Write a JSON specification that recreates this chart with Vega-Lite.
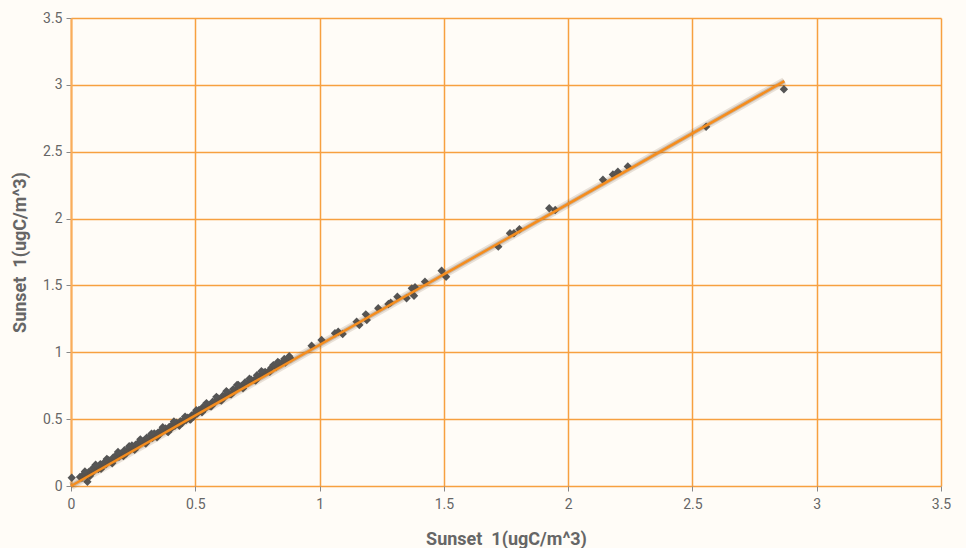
{
  "$schema": "https://vega.github.io/schema/vega-lite/v6.json",
  "width": 870,
  "height": 468,
  "autosize": "none",
  "padding": {"left": 71, "top": 18, "right": 25, "bottom": 62},
  "background": "#fffcf7",
  "config": {
    "view": {"stroke": null},
    "axis": {
      "grid": true,
      "gridColor": "#f7a040",
      "gridWidth": 1.5,
      "domainColor": "#f9ad5c",
      "domainWidth": 2,
      "tickColor": "#888888",
      "tickSize": 5,
      "labelColor": "#666666",
      "labelFont": "Roboto",
      "labelFontSize": 14,
      "labelFlush": false,
      "titleColor": "#666666",
      "titleFont": "Roboto",
      "titleFontSize": 18,
      "titleFontWeight": "bold"
    }
  },
  "datasets": {
    "points": [
      {"x": 0.003, "y": 0.062},
      {"x": 0.036, "y": 0.068}, {"x": 0.044, "y": 0.061}, {"x": 0.052, "y": 0.090}, {"x": 0.060, "y": 0.083},
      {"x": 0.066, "y": 0.032}, {"x": 0.072, "y": 0.106}, {"x": 0.080, "y": 0.089}, {"x": 0.088, "y": 0.133},
      {"x": 0.095, "y": 0.120}, {"x": 0.103, "y": 0.139}, {"x": 0.110, "y": 0.126}, {"x": 0.118, "y": 0.164},
      {"x": 0.125, "y": 0.157}, {"x": 0.133, "y": 0.175}, {"x": 0.140, "y": 0.163}, {"x": 0.148, "y": 0.196},
      {"x": 0.155, "y": 0.189}, {"x": 0.163, "y": 0.182}, {"x": 0.170, "y": 0.214}, {"x": 0.178, "y": 0.208},
      {"x": 0.185, "y": 0.235}, {"x": 0.193, "y": 0.219}, {"x": 0.200, "y": 0.241}, {"x": 0.208, "y": 0.239},
      {"x": 0.215, "y": 0.267}, {"x": 0.223, "y": 0.245}, {"x": 0.230, "y": 0.273}, {"x": 0.238, "y": 0.271},
      {"x": 0.245, "y": 0.303}, {"x": 0.253, "y": 0.292}, {"x": 0.260, "y": 0.309}, {"x": 0.268, "y": 0.298},
      {"x": 0.275, "y": 0.330}, {"x": 0.283, "y": 0.324}, {"x": 0.290, "y": 0.336}, {"x": 0.298, "y": 0.324},
      {"x": 0.305, "y": 0.362}, {"x": 0.313, "y": 0.350}, {"x": 0.320, "y": 0.373}, {"x": 0.328, "y": 0.361},
      {"x": 0.335, "y": 0.393}, {"x": 0.343, "y": 0.387}, {"x": 0.350, "y": 0.399}, {"x": 0.358, "y": 0.388},
      {"x": 0.365, "y": 0.420}, {"x": 0.373, "y": 0.414}, {"x": 0.380, "y": 0.431}, {"x": 0.388, "y": 0.409},
      {"x": 0.395, "y": 0.442}, {"x": 0.403, "y": 0.430}, {"x": 0.410, "y": 0.463}, {"x": 0.418, "y": 0.451},
      {"x": 0.425, "y": 0.473}, {"x": 0.433, "y": 0.462}, {"x": 0.440, "y": 0.484}, {"x": 0.448, "y": 0.473},
      {"x": 0.455, "y": 0.500}, {"x": 0.463, "y": 0.493}, {"x": 0.470, "y": 0.511}, {"x": 0.478, "y": 0.499},
      {"x": 0.485, "y": 0.527}, {"x": 0.493, "y": 0.520}, {"x": 0.500, "y": 0.548}, {"x": 0.508, "y": 0.541},
      {"x": 0.515, "y": 0.568}, {"x": 0.523, "y": 0.562}, {"x": 0.530, "y": 0.589}, {"x": 0.540, "y": 0.580},
      {"x": 0.550, "y": 0.605}, {"x": 0.560, "y": 0.596}, {"x": 0.570, "y": 0.631}, {"x": 0.580, "y": 0.627},
      {"x": 0.590, "y": 0.657}, {"x": 0.600, "y": 0.643}, {"x": 0.610, "y": 0.674}, {"x": 0.620, "y": 0.669},
      {"x": 0.630, "y": 0.700}, {"x": 0.640, "y": 0.685}, {"x": 0.652, "y": 0.723}, {"x": 0.662, "y": 0.718},
      {"x": 0.673, "y": 0.755}, {"x": 0.685, "y": 0.748}, {"x": 0.700, "y": 0.774}, {"x": 0.712, "y": 0.771},
      {"x": 0.725, "y": 0.795}, {"x": 0.737, "y": 0.793}, {"x": 0.748, "y": 0.829}, {"x": 0.760, "y": 0.822},
      {"x": 0.772, "y": 0.849}, {"x": 0.781, "y": 0.854}, {"x": 0.795, "y": 0.859}, {"x": 0.806, "y": 0.885},
      {"x": 0.814, "y": 0.904}, {"x": 0.825, "y": 0.890}, {"x": 0.838, "y": 0.919}, {"x": 0.848, "y": 0.920},
      {"x": 0.858, "y": 0.950}, {"x": 0.868, "y": 0.946}, {"x": 0.878, "y": 0.971}, {"x": 0.884, "y": 0.953},
      {"x": 0.056, "y": 0.109}, {"x": 0.076, "y": 0.075}, {"x": 0.099, "y": 0.159}, {"x": 0.121, "y": 0.128},
      {"x": 0.144, "y": 0.202}, {"x": 0.166, "y": 0.170}, {"x": 0.189, "y": 0.254}, {"x": 0.211, "y": 0.223},
      {"x": 0.234, "y": 0.297}, {"x": 0.256, "y": 0.270}, {"x": 0.279, "y": 0.349}, {"x": 0.301, "y": 0.318},
      {"x": 0.324, "y": 0.392}, {"x": 0.346, "y": 0.365}, {"x": 0.369, "y": 0.439}, {"x": 0.391, "y": 0.403},
      {"x": 0.414, "y": 0.482}, {"x": 0.436, "y": 0.450}, {"x": 0.459, "y": 0.519}, {"x": 0.481, "y": 0.497},
      {"x": 0.504, "y": 0.567}, {"x": 0.527, "y": 0.551}, {"x": 0.545, "y": 0.620}, {"x": 0.565, "y": 0.596},
      {"x": 0.585, "y": 0.667}, {"x": 0.605, "y": 0.638}, {"x": 0.625, "y": 0.709}, {"x": 0.645, "y": 0.685},
      {"x": 0.668, "y": 0.755}, {"x": 0.692, "y": 0.730}, {"x": 0.718, "y": 0.802}, {"x": 0.743, "y": 0.789},
      {"x": 0.766, "y": 0.858}, {"x": 0.800, "y": 0.854}, {"x": 0.832, "y": 0.928}, {"x": 0.862, "y": 0.924},
      {"x": 0.968, "y": 1.049}, {"x": 1.008, "y": 1.092}, {"x": 1.062, "y": 1.142}, {"x": 1.075, "y": 1.154},
      {"x": 1.093, "y": 1.137}, {"x": 1.149, "y": 1.229}, {"x": 1.160, "y": 1.204}, {"x": 1.186, "y": 1.284},
      {"x": 1.190, "y": 1.241}, {"x": 1.236, "y": 1.329}, {"x": 1.277, "y": 1.361}, {"x": 1.286, "y": 1.371},
      {"x": 1.313, "y": 1.416}, {"x": 1.350, "y": 1.404}, {"x": 1.371, "y": 1.478}, {"x": 1.384, "y": 1.486},
      {"x": 1.380, "y": 1.423}, {"x": 1.424, "y": 1.528}, {"x": 1.491, "y": 1.610}, {"x": 1.509, "y": 1.565},
      {"x": 1.719, "y": 1.790}, {"x": 1.766, "y": 1.890}, {"x": 1.782, "y": 1.890}, {"x": 1.804, "y": 1.920},
      {"x": 1.924, "y": 2.077}, {"x": 1.948, "y": 2.064}, {"x": 2.140, "y": 2.290}, {"x": 2.180, "y": 2.330},
      {"x": 2.200, "y": 2.350}, {"x": 2.240, "y": 2.390}, {"x": 2.555, "y": 2.687}, {"x": 2.868, "y": 2.967}
    ],
    "trend": [
      {"x": 0, "y": 0},
      {"x": 2.87, "y": 3.028}
    ]
  },
  "layer": [
    {
      "data": {"name": "points"},
      "mark": {"type": "point", "shape": "diamond", "filled": true, "size": 70, "color": "#555555", "opacity": 1},
      "encoding": {
        "x": {
          "field": "x", "type": "quantitative",
          "scale": {"domain": [0, 3.5], "nice": false, "zero": false},
          "axis": {"values": [0, 0.5, 1, 1.5, 2, 2.5, 3, 3.5], "format": "~g", "title": "Sunset \u00a01(ugC/m^3)", "titlePadding": 19, "labelPadding": 6, "domain": false}
        },
        "y": {
          "field": "y", "type": "quantitative",
          "scale": {"domain": [0, 3.5], "nice": false, "zero": false},
          "axis": {"values": [0, 0.5, 1, 1.5, 2, 2.5, 3, 3.5], "format": "~g", "title": "Sunset \u00a01(ugC/m^3)", "titlePadding": 13, "labelPadding": 4}
        }
      }
    },
    {
      "data": {"name": "trend"},
      "mark": {"type": "line", "color": "#6b4a2a", "strokeWidth": 8, "opacity": 0.15},
      "encoding": {"x": {"field": "x", "type": "quantitative"}, "y": {"field": "y", "type": "quantitative"}}
    },
    {
      "data": {"name": "trend"},
      "mark": {"type": "line", "color": "#6b4a2a", "strokeWidth": 4.5, "opacity": 0.25},
      "encoding": {"x": {"field": "x", "type": "quantitative"}, "y": {"field": "y", "type": "quantitative"}}
    },
    {
      "data": {"name": "trend"},
      "mark": {"type": "line", "color": "#f58d1e", "strokeWidth": 2.5},
      "encoding": {"x": {"field": "x", "type": "quantitative"}, "y": {"field": "y", "type": "quantitative"}}
    }
  ]
}
